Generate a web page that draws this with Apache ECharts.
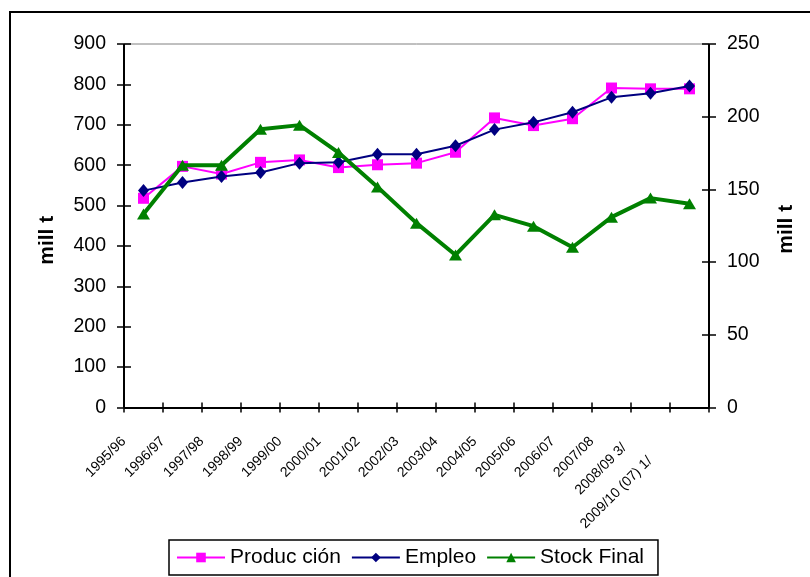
<!DOCTYPE html>
<html>
<head>
<meta charset="utf-8">
<script src="https://cdn.jsdelivr.net/npm/echarts@6/dist/echarts.min.js"></script>
<style>
html,body{margin:0;padding:0;background:#fff;}
#c{width:810px;height:577px;}
</style>
</head>
<body>
<div id="c"></div>
<script>
// ---- data ----
const categories = ['1995/96','1996/97','1997/98','1998/99','1999/00','2000/01','2001/02','2002/03','2003/04','2004/05','2005/06','2006/07','2007/08','2008/09 3/','2009/10 (07) 1/'];
const produccion = [518, 597, 578, 607, 613, 594, 601, 605, 632, 717, 698, 715, 791, 789, 789];
const empleo     = [537, 557, 572, 582, 605, 607, 627, 627, 648, 688, 706, 731, 768, 778, 796];
const stockFinal = [133, 166.6, 166.6, 191.4, 194.2, 175.3, 151.6, 126.8, 104.9, 132.5, 124.7, 110.2, 130.9, 144, 140.1];
const leftTicks  = {min: 0, max: 900, interval: 100};
const rightTicks = {min: 0, max: 250, interval: 50};
const seriesNames = ['Produc ción', 'Empleo', 'Stock Final'];
const axisTitle = 'mill t';

const FONT = "'Liberation Sans', Arial, sans-serif";
const black = '#000';
const clear = 'rgba(0,0,0,0)';

const xData = categories.map((c, i) => {
  let pad = [0, 28, 0, 0];
  if (i === categories.length - 2) pad = [18, 37, 0, 0];
  if (i === categories.length - 1) pad = [0, 56, 10, 0];
  return {value: c, textStyle: {padding: pad}};
});
// frame lines: plot-area edges drawn as the first/last split lines
const xEdgeColors = [black].concat(categories.slice(1).map(() => clear), [black]);
const leftTickCount = (leftTicks.max - leftTicks.min) / leftTicks.interval + 1;
const yBaseColors = [black].concat(Array.from({length: leftTickCount - 1}, () => clear));

const chart = echarts.init(document.getElementById('c'), null, {renderer: 'canvas'});
const tickStyle = {color: black, width: 1.5};
chart.setOption({
  animation: false,
  backgroundColor: '#fff',
  graphic: [{
    type: 'rect', z: -10, silent: true,
    shape: {x: 10, y: 12, width: 830, height: 620},
    style: {fill: 'none', stroke: black, lineWidth: 2}
  }],
  grid: {left: 124, right: 101, top: 44, bottom: 169.5, show: true, borderColor: '#808080', borderWidth: 1, backgroundColor: 'transparent'},
  legend: {
    left: 169, top: 540,
    data: seriesNames,
    itemWidth: 48, itemHeight: 12, itemGap: 10,
    padding: [7, 14, 7, 7],
    borderColor: black, borderWidth: 1.5,
    textStyle: {fontFamily: FONT, fontSize: 21, color: black}
  },
  xAxis: {
    type: 'category', data: xData, boundaryGap: true, position: 'bottom', offset: -5,
    axisLine: {show: false, onZero: false},
    axisTick: {show: true, inside: false, length: 10, interval: 0, lineStyle: tickStyle},
    splitLine: {show: true, interval: 0, lineStyle: {color: xEdgeColors, width: 2}},
    axisLabel: {interval: 0, rotate: 45, margin: 17, fontFamily: FONT, fontSize: 14, color: black}
  },
  yAxis: [{
    type: 'value', position: 'left', offset: -7, min: leftTicks.min, max: leftTicks.max, interval: leftTicks.interval,
    name: axisTitle, nameLocation: 'middle', nameGap: 73, nameRotate: 90,
    nameTextStyle: {fontFamily: FONT, fontWeight: 'bold', fontSize: 21, color: black, padding: [0, 29, 0, 0]},
    axisLine: {show: false},
    axisTick: {show: true, length: 14, lineStyle: tickStyle},
    splitLine: {show: true, lineStyle: {color: yBaseColors, width: 2}},
    axisLabel: {margin: 25, fontFamily: FONT, fontSize: 19.5, color: black}
  }, {
    type: 'value', position: 'right', offset: -7, min: rightTicks.min, max: rightTicks.max, interval: rightTicks.interval,
    name: axisTitle, nameLocation: 'middle', nameGap: 74, nameRotate: 90,
    nameTextStyle: {fontFamily: FONT, fontWeight: 'bold', fontSize: 21, color: black, padding: [0, 7, 0, 0]},
    axisLine: {show: false},
    axisTick: {show: true, length: 14, lineStyle: tickStyle},
    splitLine: {show: false},
    axisLabel: {margin: 25, fontFamily: FONT, fontSize: 19.5, color: black}
  }],
  series: [{
    name: seriesNames[0], type: 'line', yAxisIndex: 0, data: produccion,
    symbol: 'rect', symbolSize: 11, z: 2,
    lineStyle: {color: '#FF00FF', width: 2}, itemStyle: {color: '#FF00FF'}
  }, {
    name: seriesNames[1], type: 'line', yAxisIndex: 0, data: empleo,
    symbol: 'diamond', symbolSize: [11, 13], z: 3,
    lineStyle: {color: '#000080', width: 2}, itemStyle: {color: '#000080'}
  }, {
    name: seriesNames[2], type: 'line', yAxisIndex: 1, data: stockFinal,
    symbol: 'triangle', symbolSize: [13, 11], z: 4,
    lineStyle: {color: '#008000', width: 4}, itemStyle: {color: '#008000'}
  }]
});
</script>
</body>
</html>
